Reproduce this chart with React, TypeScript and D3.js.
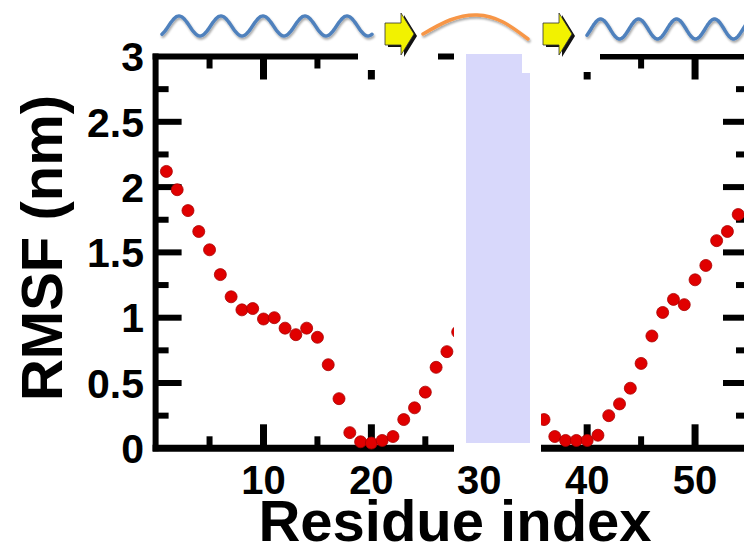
import * as d3 from "d3";

// RMSF per residue (segment before and after the masked loop)
const residuesA = [1, 2, 3, 4, 5, 6, 7, 8, 9, 10, 11, 12, 13, 14, 15, 16, 17, 18, 19, 20, 21, 22, 23, 24, 25, 26, 27, 28];
const rmsfA = [2.12, 1.98, 1.82, 1.66, 1.52, 1.33, 1.16, 1.06, 1.07, 0.99, 1.0, 0.92, 0.87, 0.92, 0.85, 0.64, 0.38, 0.12, 0.05, 0.04, 0.06, 0.09, 0.22, 0.31, 0.43, 0.62, 0.74, 0.89];
const residuesB = [36, 37, 38, 39, 40, 41, 42, 43, 44, 45, 46, 47, 48, 49, 50, 51, 52, 53, 54];
const rmsfB = [0.22, 0.09, 0.06, 0.06, 0.06, 0.1, 0.25, 0.34, 0.46, 0.65, 0.86, 1.04, 1.14, 1.1, 1.29, 1.4, 1.59, 1.66, 1.79];

const xTicks = [10, 20, 30, 40, 50];
const yTickLabels = ["0", "0.5", "1", "1.5", "2", "2.5", "3"];

const W = 744;
const H = 549;
const FONT = "'Liberation Sans', Arial, Helvetica, sans-serif";

export default function App() {
  const x = d3.scaleLinear().domain([0, 55]).range([155.6, 749]);
  const y = d3.scaleLinear().domain([0, 3]).range([448.3, 56.5]);

  const points = [
    ...residuesA.map((r, i) => ({ r, v: rmsfA[i] })),
    ...residuesB.map((r, i) => ({ r, v: rmsfB[i] })),
  ];

  const majorX = d3.range(10, 55, 10);
  const minorX = d3.range(5, 55, 10);
  const yMinor = d3.range(0.25, 3, 0.5);
  const yMajor = d3.range(0.5, 3, 0.5);

  // helix schematic: sine wave decorations
  const wave = (x0: number, x1: number, yc: number, amp: number, period: number, phase: number) => {
    const pts = d3.range(x0, x1 + 0.5, 1).map((px) => [px, yc - amp * Math.sin(((px - x0) / period) * 2 * Math.PI + phase)] as [number, number]);
    return d3.line().curve(d3.curveBasis)(pts) || "";
  };
  const arc = d3.line().curve(d3.curveNatural)([
    [423, 34],
    [450, 20],
    [477, 15],
    [503, 22],
    [528, 39],
  ]) || "";

  const arrow = (x0: number) => {
    const p = [
      [x0, 23],
      [x0 + 16, 23],
      [x0 + 16, 13],
      [x0 + 29, 34],
      [x0 + 16, 55],
      [x0 + 16, 45],
      [x0, 45],
    ];
    return "M" + p.map((d) => d.join(",")).join("L") + "Z";
  };

  return (
    <svg
      width={W}
      height={H}
      style={{ position: "absolute", left: 0, top: 0, background: "#fff" }}
      fontFamily={FONT}
    >
      <defs>
        <filter id="sh" x="-10%" y="-50%" width="120%" height="200%">
          <feDropShadow dx="1" dy="2" stdDeviation="1.2" floodColor="#000" floodOpacity="0.35" />
        </filter>
      </defs>

      {/* frame */}
      <g stroke="#000" fill="none">
        <line x1={x(0)} x2={x(0)} y1={y(3) - 3} y2={y(0) + 3} strokeWidth={6} />
        <line x1={x(0) - 3} x2={x(55)} y1={y(0)} y2={y(0)} strokeWidth={7} />
        <line x1={x(0) - 3} x2={x(55)} y1={y(3)} y2={y(3)} strokeWidth={6} />
        <line x1={x(55)} x2={x(55)} y1={y(3)} y2={y(0)} strokeWidth={6} />
        {majorX.map((t) => (
          <g key={"mx" + t} strokeWidth={7}>
            <line x1={x(t)} x2={x(t)} y1={y(0)} y2={y(0) - 24} />
            <line x1={x(t)} x2={x(t)} y1={y(3)} y2={y(3) + 23} />
          </g>
        ))}
        {minorX.map((t) => (
          <g key={"nx" + t} strokeWidth={6}>
            <line x1={x(t)} x2={x(t)} y1={y(0)} y2={y(0) - 12} />
            <line x1={x(t)} x2={x(t)} y1={y(3)} y2={y(3) + 12} />
          </g>
        ))}
        {yMajor.map((t) => (
          <g key={"my" + t} strokeWidth={6}>
            <line x1={x(0)} x2={x(0) + 26} y1={y(t)} y2={y(t)} />
            <line x1={x(55)} x2={x(55) - 26} y1={y(t)} y2={y(t)} />
          </g>
        ))}
        {yMinor.map((t) => (
          <g key={"ny" + t} strokeWidth={6}>
            <line x1={x(0)} x2={x(0) + 13} y1={y(t)} y2={y(t)} />
            <line x1={x(55)} x2={x(55) - 13} y1={y(t)} y2={y(t)} />
          </g>
        ))}
      </g>

      {/* points */}
      <g>
        {points.map((d) => (
          <circle key={d.r} cx={x(d.r)} cy={y(d.v)} r={6} fill="#e00000" stroke="#a80000" strokeWidth={0.8} />
        ))}
      </g>

      {/* white masks from the pasted schematic */}
      <g fill="#fff">
        <rect x={358} y={0} width={80} height={70} />
        <rect x={454} y={0} width={146} height={72} />
        <rect x={454} y={0} width={87} height={458} />
        <rect x={600} y={0} width={150} height={y(3) - 2.5} />
      </g>
      <line x1={600} x2={W} y1={y(3)} y2={y(3)} stroke="#000" strokeWidth={3} />
      <line x1={438} x2={454} y1={57} y2={57} stroke="#000" strokeWidth={4} />

      {/* masked loop region */}
      <path d="M466,54H522V73H530V443H466Z" fill="#d8d8fb" />

      {/* tick labels */}
      <g fontWeight="bold" fontSize={41} fill="#000">
        {yTickLabels.map((s) => (
          <text key={s} x={144} y={y(+s)} dy="0.36em" textAnchor="end">
            {s}
          </text>
        ))}
      </g>
      <g fontWeight="bold" fontSize={40} fill="#000">
        {xTicks.map((t) => (
          <text key={t} x={x(t)} y={494} textAnchor="middle">
            {t}
          </text>
        ))}
      </g>
      <text x={455} y={541} textAnchor="middle" fontWeight="bold" fontSize={58}>
        Residue index
      </text>
      <text transform="translate(62,248) rotate(-90)" textAnchor="middle" fontWeight="bold" fontSize={58}>
        RMSF (nm)
      </text>

      {/* secondary structure schematic */}
      <g fill="none" strokeWidth={3.5} strokeLinecap="round" filter="url(#sh)">
        <path d={wave(162, 372, 26, 10, 42, -Math.PI / 2 + 0.6)} stroke="#4f81bd" />
        <path d={arc} stroke="#f79646" />
        <path d={wave(587, 760, 29, 10, 38, -Math.PI / 2 + 0.9)} stroke="#4f81bd" />
      </g>
      {[385, 543].map((x0) => (
        <g key={x0}>
          <path d={arrow(x0)} fill="#111" transform="translate(3,2)" />
          <path d={arrow(x0)} fill="#f2f200" stroke="#333" strokeWidth={0.8} />
        </g>
      ))}
    </svg>
  );
}
